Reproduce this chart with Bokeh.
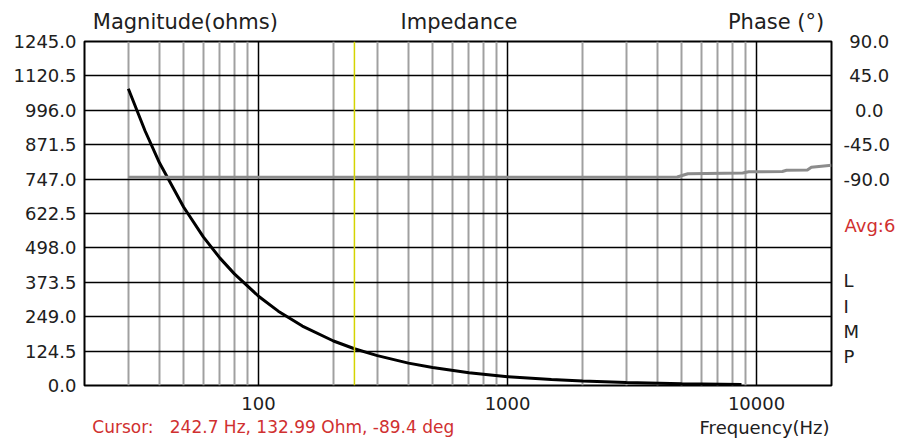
import math
from bokeh.plotting import figure
from bokeh.models import (Range1d, LinearAxis, LogAxis, FixedTicker,
                          PrintfTickFormatter, Span)
from bokeh.embed import file_html
from bokeh.resources import INLINE

# ---- data ----
imp_freq = [30, 35, 40, 50, 60, 70, 80, 100, 120, 150, 200, 242.7, 300, 400,
            500, 700, 1000, 1500, 2000, 3000, 5000, 8700]
imp_ohm = [1074, 922, 806, 646, 538, 461, 404, 323, 269, 215, 161, 133, 108,
           81, 65, 46, 32, 21.5, 16, 11, 6.5, 3.7]

phase_freq = [30, 1000, 3000, 4800, 5300, 8800, 9300, 12700, 13200, 16000,
              16600, 20000]
phase_deg = [-87.5, -87.5, -87.5, -87.3, -83.0, -82.0, -80.5, -80.0, -78.5,
             -78.0, -74.5, -72.0]

cursor_freq = 242.7
cursor_text = "Cursor:\u00a0\u00a0\u00a0242.7 Hz, 132.99 Ohm, -89.4 deg"
avg_text = "Avg:6"
top_texts = ["Magnitude(ohms)", "Impedance", "Phase (\u00b0)"]
limp_letters = ["L", "I", "M", "P"]

mag_ticks = [0.0, 124.5, 249.0, 373.5, 498.0, 622.5, 747.0, 871.5, 996.0,
             1120.5, 1245.0]
phase_ticks = [-90, -45, 0, 45, 90]
phase_tick_labels = ["-90.0", "-45.0", "\u00a0\u00a00.0", "\u00a045.0", "\u00a090.0"]
freq_major = [100, 1000, 10000]
freq_minor = [30, 40, 50, 60, 70, 80, 90,
              200, 300, 400, 500, 600, 700, 800, 900,
              2000, 3000, 4000, 5000, 6000, 7000, 8000, 9000]

# ---- layout (pixels) ----
W, H = 898, 441
FL, FR, FT, FB = 84, 832, 41, 385
F_MIN, F_MAX = 20, 20000
P_MIN, P_MAX = -360, 90


def fx(px):
    """frequency whose position is at page pixel px (for text anchors)"""
    return round(10 ** (math.log10(F_MIN) + (px - FL) / (FR - FL)
                        * (math.log10(F_MAX) - math.log10(F_MIN))), 3)


def fphase(py):
    """phase value whose position is at page pixel py (for text anchors)"""
    return round(P_MAX - (py - FT) / (FB - FT) * (P_MAX - P_MIN), 3)


FONT = "DejaVu Sans"
TXT = "#202020"
RED = "#d03030"

p = figure(width=W, height=H, x_axis_type="log",
           x_range=Range1d(F_MIN, F_MAX), y_range=Range1d(0, 1245),
           output_backend="svg", toolbar_location=None,
           min_border_left=FL, min_border_right=W - FR,
           min_border_top=FT, min_border_bottom=H - FB)
p.extra_y_ranges = {"phase": Range1d(P_MIN, P_MAX)}

p.background_fill_color = "white"
p.border_fill_color = "white"
p.outline_line_color = "black"
p.outline_line_width = 2

# grids
p.xgrid.ticker = FixedTicker(ticks=freq_major, minor_ticks=freq_minor)
p.xgrid.grid_line_color = "black"
p.xgrid.grid_line_width = 1.5
p.xgrid.minor_grid_line_color = "#a0a0a0"
p.xgrid.minor_grid_line_width = 2
p.ygrid.ticker = FixedTicker(ticks=mag_ticks)
p.ygrid.grid_line_color = "black"
p.ygrid.grid_line_width = 1.5


def style(ax, size, color=TXT, standoff=8):
    ax.axis_line_color = None
    ax.major_tick_line_color = None
    ax.minor_tick_line_color = None
    ax.major_tick_out = 0
    ax.major_tick_in = 0
    ax.minor_tick_out = 0
    ax.minor_tick_in = 0
    ax.major_label_text_font = FONT
    ax.major_label_text_font_size = size
    ax.major_label_text_color = color
    ax.major_label_standoff = standoff


# left magnitude axis
p.yaxis[0].ticker = FixedTicker(ticks=mag_ticks)
p.yaxis[0].formatter = PrintfTickFormatter(format="%.1f")
style(p.yaxis[0], "18px", standoff=8)

# bottom frequency axis
p.xaxis[0].ticker = FixedTicker(ticks=freq_major)
p.xaxis[0].formatter = PrintfTickFormatter(format="%d")
style(p.xaxis[0], "18px", standoff=11)

# bottom row texts (cursor readout, axis title)
cur_pos = [fx(273)]
cax = LogAxis(ticker=FixedTicker(ticks=cur_pos),
              major_label_overrides=dict(zip(cur_pos, [cursor_text])))
style(cax, "17px", color=RED, standoff=4)
p.add_layout(cax, "below")

fq_pos = [fx(765)]
fax = LogAxis(ticker=FixedTicker(ticks=fq_pos),
              major_label_overrides=dict(zip(fq_pos, ["Frequency(Hz)"])))
style(fax, "18px", standoff=-23)
p.add_layout(fax, "below")

# top row texts
top_pos = [fx(185), fx(459), fx(776.5)]
tax = LogAxis(ticker=FixedTicker(ticks=top_pos),
              major_label_overrides=dict(zip(top_pos, top_texts)))
style(tax, "21px", standoff=8)
p.add_layout(tax, "above")

# right side: "Avg" (red) then phase ticks and L I M P
avg_pos = [fphase(225)]
aax = LinearAxis(y_range_name="phase", ticker=FixedTicker(ticks=avg_pos),
                 major_label_overrides=dict(zip(avg_pos, [avg_text])))
style(aax, "18px", color=RED, standoff=13)
p.add_layout(aax, "right")

limp_pos = [fphase(280), fphase(305.5), fphase(331), fphase(356.5)]
r_ticks = [float(t) for t in phase_ticks] + limp_pos
r_labels = phase_tick_labels + limp_letters
rax = LinearAxis(y_range_name="phase", ticker=FixedTicker(ticks=r_ticks),
                 major_label_overrides=dict(zip(r_ticks, r_labels)))
style(rax, "18px", standoff=-55)
p.add_layout(rax, "right")

# curves
p.line(imp_freq, imp_ohm, line_color="black", line_width=3)
p.line(phase_freq, phase_deg, y_range_name="phase", line_color="#8c8c8c",
       line_width=3)

p.add_layout(Span(location=cursor_freq, dimension="height",
                  line_color="#d4d400", line_width=1.5))

open("out.html", "w").write(file_html(p, INLINE))
